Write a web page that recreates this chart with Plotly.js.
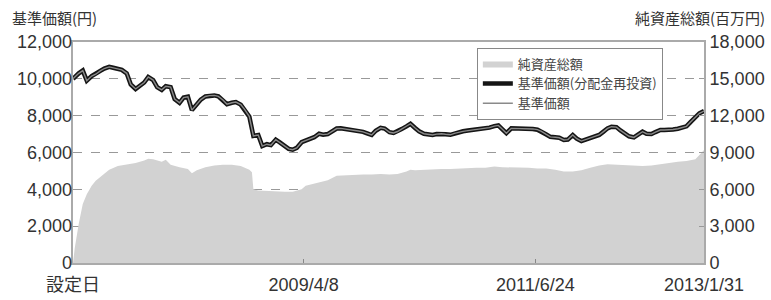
<!DOCTYPE html>
<html>
<head>
<meta charset="utf-8">
<script src="https://cdn.plot.ly/plotly-3.0.1.min.js"></script>
<style>html,body{margin:0;padding:0;background:#fff;}#chart{width:771px;height:300px;}</style>
</head>
<body>
<div id="chart"></div>
<script>
// ---- data ----
const navDates = [
"2007-01-26","2007-02-01","2007-02-15","2007-03-01","2007-03-15","2007-04-01","2007-04-15","2007-05-01","2007-05-15","2007-06-01","2007-06-15","2007-07-01","2007-07-15","2007-08-01","2007-08-15","2007-09-01","2007-09-15","2007-10-01","2007-10-15","2007-11-01","2007-11-15","2007-12-01","2007-12-15",
"2008-01-01","2008-01-15","2008-02-01","2008-02-15","2008-03-01","2008-03-15","2008-04-01","2008-04-15","2008-05-01","2008-05-15","2008-06-01","2008-06-15","2008-07-01","2008-07-15","2008-08-01","2008-08-15","2008-09-01","2008-09-15","2008-10-01","2008-10-15","2008-11-01","2008-11-15","2008-12-01","2008-12-15",
"2009-01-01","2009-01-15","2009-02-01","2009-02-15","2009-03-01","2009-03-15","2009-04-01","2009-04-15","2009-05-01","2009-05-15","2009-06-01","2009-06-15","2009-07-01","2009-07-15","2009-08-01","2009-08-15","2009-09-01","2009-09-15","2009-10-01","2009-10-15","2009-11-01","2009-11-15","2009-12-01","2009-12-15",
"2010-01-01","2010-01-15","2010-02-01","2010-02-15","2010-03-01","2010-03-15","2010-04-01","2010-04-15","2010-05-01","2010-05-15","2010-06-01","2010-06-15","2010-07-01","2010-07-15","2010-08-01","2010-08-15","2010-09-01","2010-09-15","2010-10-01","2010-10-15","2010-11-01","2010-11-15","2010-12-01","2010-12-15",
"2011-01-01","2011-01-15","2011-02-01","2011-02-15","2011-03-01","2011-03-15","2011-04-01","2011-04-15","2011-05-01","2011-05-15","2011-06-01","2011-06-15","2011-07-01","2011-07-15","2011-08-01","2011-08-15","2011-09-01","2011-09-15","2011-10-01","2011-10-15","2011-11-01","2011-11-15","2011-12-01","2011-12-15",
"2012-01-01","2012-01-15","2012-02-01","2012-02-15","2012-03-01","2012-03-15","2012-04-01","2012-04-15","2012-05-01","2012-05-15","2012-06-01","2012-06-15","2012-07-01","2012-07-15","2012-08-01","2012-08-15","2012-09-01","2012-09-15","2012-10-01","2012-10-15","2012-11-01","2012-11-15","2012-12-01","2012-12-15",
"2013-01-01","2013-01-15","2013-01-31"];

const navValues = [
10000,10100,10300,10450,9900,10150,10250,10430,10560,10650,10600,10520,10490,10300,9700,9450,9600,9800,10100,9930,9550,9400,9600,
9550,8900,8700,8980,9030,8300,8650,8870,9040,9090,9100,9050,8850,8620,8700,8740,8600,8330,7950,6900,6950,6350,6450,6400,
6700,6550,6320,6200,6150,6250,6560,6660,6730,6830,7020,6970,7000,7120,7300,7310,7280,7250,7210,7170,7120,7040,6950,7180,
7340,7300,7100,7060,7140,7270,7420,7560,7330,7150,7020,6990,6950,7000,7020,6990,6960,7040,7120,7150,7190,7220,7240,7270,
7300,7350,7430,7470,7260,7050,7310,7310,7310,7300,7310,7280,7240,7150,6980,6850,6830,6800,6680,6700,6950,6750,6620,6700,
6780,6860,6950,7120,7310,7400,7380,7200,7010,6880,6820,6970,7130,7020,7000,7110,7220,7220,7220,7250,7290,7340,7420,7650,
7920,8130,8250];

// 基準価額(分配金再投資) – no distributions, so it overlaps the plain NAV line
const reinvestValues = navValues.slice();

const assetDates = [
"2007-01-26","2007-02-01","2007-02-15","2007-03-01","2007-03-15","2007-04-01","2007-04-15","2007-05-01","2007-06-01","2007-07-01","2007-08-01","2007-09-01","2007-10-01","2007-10-15","2007-11-01","2007-12-01","2007-12-15",
"2008-01-01","2008-02-01","2008-03-01","2008-03-15","2008-04-01","2008-05-01","2008-06-01","2008-07-01","2008-08-01","2008-09-01","2008-09-15","2008-10-01","2008-10-10","2008-10-15","2008-11-01","2008-12-01",
"2009-01-01","2009-02-01","2009-03-01","2009-04-01","2009-04-15","2009-05-01","2009-06-01","2009-07-01","2009-08-01","2009-09-01","2009-10-01","2009-11-01","2009-12-01",
"2010-01-01","2010-02-01","2010-03-01","2010-04-01","2010-04-15","2010-05-01","2010-06-01","2010-07-01","2010-08-01","2010-09-01","2010-10-01","2010-11-01","2010-12-01",
"2011-01-01","2011-02-01","2011-03-01","2011-04-01","2011-05-01","2011-06-01","2011-07-01","2011-08-01","2011-09-01","2011-10-01","2011-11-01","2011-12-01",
"2012-01-01","2012-02-01","2012-03-01","2012-04-01","2012-05-01","2012-06-01","2012-07-01","2012-08-01","2012-09-01","2012-10-01","2012-11-01","2012-12-01",
"2013-01-01","2013-01-15","2013-01-31"];

const assetValues = [
0,1200,3200,4800,5600,6300,6700,7000,7600,7900,8000,8150,8350,8500,8450,8250,8400,
8000,7800,7650,7300,7550,7800,7950,8000,8000,7900,7750,7600,7400,6000,5900,5850,
5850,5800,5800,6000,6300,6400,6600,6750,7100,7150,7150,7200,7200,
7250,7200,7250,7450,7600,7550,7600,7600,7650,7650,7700,7700,7750,
7750,7850,7800,7800,7800,7750,7700,7700,7600,7450,7450,7550,
7750,7950,8050,8000,7950,7900,7900,7950,8050,8200,8250,8300,
8450,8800,9200];

const xTickVals = ["2007-01-26","2009-04-08","2011-06-24","2013-01-31"];
const xTickText = ["設定日","2009/4/8","2011/6/24","2013/1/31"];
const leftTicks = [0,2000,4000,6000,8000,10000,12000];
const rightTicks = [0,3000,6000,9000,12000,15000,18000];

const seriesNames = ["純資産総額","基準価額(分配金再投資)","基準価額"];
const leftTitle = "基準価額(円)";
const rightTitle = "純資産総額(百万円)";

const fmt = v => v.toLocaleString("en-US");
const numFont = {family:"Liberation Sans, Arial, sans-serif", size:18, color:"#333"};
const cjk = "Noto Sans CJK JP, sans-serif";

const traces = [
  {x:assetDates, y:assetValues, name:seriesNames[0], type:"scatter", mode:"lines",
   fill:"tozeroy", fillcolor:"#d2d2d2", line:{width:0, color:"#d2d2d2"}, yaxis:"y"},
  {x:navDates, y:reinvestValues, name:seriesNames[1], type:"scatter", mode:"lines",
   line:{color:"#151515", width:4.5}, yaxis:"y2"},
  {x:navDates, y:navValues, name:seriesNames[2], type:"scatter", mode:"lines",
   line:{color:"#8a8a8a", width:1.4}, yaxis:"y2"}
];

const layout = {
  width:771, height:300,
  margin:{l:73, r:67, t:42, b:37},
  paper_bgcolor:"#fff", plot_bgcolor:"#fff",
  showlegend:true,
  legend:{x:0.64, y:0.975, xanchor:"left", yanchor:"top",
    bgcolor:"#fff", bordercolor:"#888", borderwidth:1,
    font:{family:cjk, size:13, color:"#444"}, tracegroupgap:0, itemwidth:30},
  xaxis:{type:"date", range:["2007-01-26","2013-01-31"],
    tickmode:"array", tickvals:xTickVals, ticktext:xTickText,
    ticks:"inside", ticklen:4, tickcolor:"#888", ticklabelstandoff:4,
    showgrid:false, zeroline:false,
    showline:true, mirror:true, linecolor:"#aaa", linewidth:2,
    tickfont:{family:"Liberation Sans, Noto Sans CJK JP, sans-serif", size:18, color:"#333"}},
  // main axis: net assets (right side) – drawn underneath
  yaxis:{side:"right", range:[0,18000], tickmode:"array", tickvals:rightTicks,
    ticktext:rightTicks.map(fmt), tickfont:numFont,
    ticks:"inside", ticklen:5, tickcolor:"#999",
    showgrid:true, gridcolor:"#999", griddash:"dash", gridwidth:1,
    zeroline:false, showline:true, mirror:true, linecolor:"#aaa", linewidth:2},
  // overlay axis: NAV (left side)
  yaxis2:{overlaying:"y", side:"left", range:[0,12000], tickmode:"array",
    tickvals:leftTicks, ticktext:leftTicks.map(fmt), tickfont:numFont,
    ticks:"", showgrid:false, zeroline:false, showline:false},
  annotations:[
    {text:leftTitle, xref:"paper", yref:"paper", x:-0.1, y:1.11, xanchor:"left", yanchor:"middle",
     showarrow:false, font:{family:cjk, size:15, color:"#333"}},
    {text:rightTitle, xref:"paper", yref:"paper", x:1.1, y:1.11, xanchor:"right", yanchor:"middle",
     showarrow:false, font:{family:cjk, size:15, color:"#333"}}
  ]
};

Plotly.newPlot("chart", traces, layout, {staticPlot:true, displayModeBar:false});
</script>
</body>
</html>
